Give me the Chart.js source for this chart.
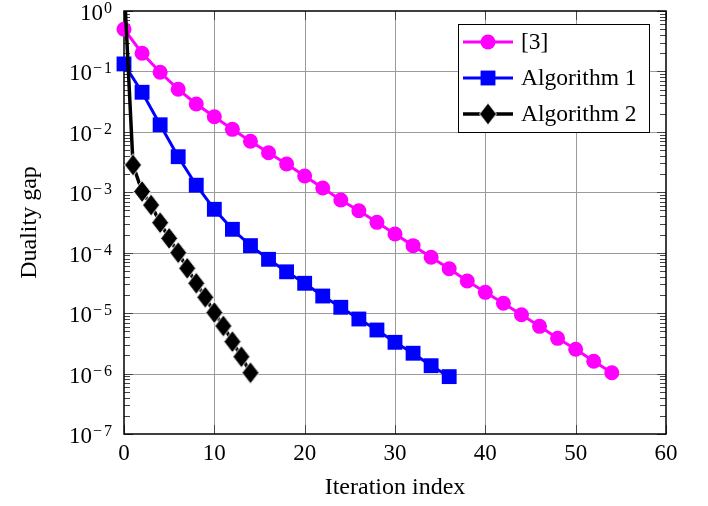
<!DOCTYPE html>
<html><head><meta charset="utf-8">
<script src="https://cdn.jsdelivr.net/npm/chart.js@4"></script>
<style>html,body{margin:0;padding:0;background:#fff}canvas{display:block}</style>
</head><body>
<canvas id="c" width="708" height="506"></canvas>
<script>
// ---- data ----
const seriesNames = ['[3]', 'Algorithm 1', 'Algorithm 2'];
const refIter = [0,2,4,6,8,10,12,14,16,18,20,22,24,26,28,30,32,34,36,38,40,42,44,46,48,50,52,54];
const refGap  = [0.50,0.20,0.097,0.0506,0.0289,0.0178,0.0110,0.00698,0.00452,0.00294,0.00186,0.00118,0.000745,0.000496,0.000318,0.000204,0.000131,8.4e-5,5.43e-5,3.40e-5,2.21e-5,1.46e-5,9.42e-6,6.05e-6,3.83e-6,2.52e-6,1.60e-6,1.03e-6];
const alg1Iter = [0,2,4,6,8,10,12,14,16,18,20,22,24,26,28,30,32,34,36];
const alg1Gap  = [0.133,0.0452,0.0131,0.00388,0.00131,0.000523,0.000244,0.000131,7.78e-5,4.83e-5,3.12e-5,1.92e-5,1.25e-5,8.0e-6,5.26e-6,3.29e-6,2.17e-6,1.35e-6,8.9e-7];
const alg2Iter = [0,1,2,3,4,5,6,7,8,9,10,11,12,13,14];
const alg2Gap  = [3.0,0.00283,0.00103,0.000616,0.000314,0.000173,1.0e-4,5.52e-5,3.12e-5,1.83e-5,1.02e-5,6.13e-6,3.37e-6,1.90e-6,1.03e-6];
const xTickValues = [0,10,20,30,40,50,60];
const yDecadeExponents = [0,-1,-2,-3,-4,-5,-6,-7];

const FONT = 'Liberation Serif';
function diamondCanvas(){
  const c=document.createElement('canvas'); c.width=20; c.height=25;
  const g=c.getContext('2d');
  g.beginPath(); g.moveTo(10,1.5); g.lineTo(18.5,12.5); g.lineTo(10,23.5); g.lineTo(1.5,12.5); g.closePath();
  g.fillStyle='#000'; g.fill(); g.strokeStyle='#fff'; g.lineWidth=1; g.stroke();
  return c;
}
const diamond = diamondCanvas();
const pts = (xs, ys) => xs.map((x,i)=>({x, y: ys[i]}));

const frame = {
  id:'frame',
  beforeDatasetsDraw(chart){
    const ctx=chart.ctx, a=chart.chartArea, xs=chart.scales.x, ys=chart.scales.y;
    ctx.save();
    ctx.strokeStyle='#9b9b9b'; ctx.lineWidth=1;
    xTickValues.forEach(v=>{ if(v===0||v===60) return; const x=Math.round(xs.getPixelForValue(v))+0.5;
      ctx.beginPath(); ctx.moveTo(x,a.top); ctx.lineTo(x,a.bottom); ctx.stroke(); });
    yDecadeExponents.forEach(e=>{ if(e===0||e===-7) return; const y=Math.round(ys.getPixelForValue(Math.pow(10,e)))+0.5;
      ctx.beginPath(); ctx.moveTo(a.left,y); ctx.lineTo(a.right,y); ctx.stroke(); });
    // ticks
    ctx.strokeStyle='#444'; ctx.lineWidth=1;
    for(let e=-7;e<0;e++){ for(let k=2;k<=9;k++){ const y=Math.round(ys.getPixelForValue(k*Math.pow(10,e)))+0.5;
      ctx.beginPath(); ctx.moveTo(a.left,y); ctx.lineTo(a.left+6,y); ctx.moveTo(a.right-6,y); ctx.lineTo(a.right,y); ctx.stroke(); } }
    yDecadeExponents.forEach(e=>{ const y=Math.round(ys.getPixelForValue(Math.pow(10,e)))+0.5;
      ctx.beginPath(); ctx.moveTo(a.left,y); ctx.lineTo(a.left+9,y); ctx.moveTo(a.right-9,y); ctx.lineTo(a.right,y); ctx.stroke(); });
    xTickValues.forEach(v=>{ const x=Math.round(xs.getPixelForValue(v))+0.5;
      ctx.beginPath(); ctx.moveTo(x,a.bottom); ctx.lineTo(x,a.bottom-9); ctx.moveTo(x,a.top); ctx.lineTo(x,a.top+9); ctx.stroke(); });
    ctx.strokeStyle='#000'; ctx.lineWidth=1.5;
    ctx.strokeRect(a.left, a.top, a.right-a.left, a.bottom-a.top);
    ctx.restore();
  },
  afterDraw(chart){
    const ctx=chart.ctx, a=chart.chartArea, ys=chart.scales.y;
    ctx.save();
    ctx.fillStyle='#000';
    yDecadeExponents.forEach(e=>{
      const y=ys.getPixelForValue(Math.pow(10,e));
      const right=112;
      ctx.font='16px "'+FONT+'"'; ctx.textAlign='right'; ctx.textBaseline='alphabetic';
      const d=String(Math.abs(e));
      ctx.fillText(d, right, y+2);
      let left = right - ctx.measureText(d).width;
      if(e!==0){ const mw=ctx.measureText('\u2212').width; left -= 2; ctx.fillText('\u2212', left, y+2); left -= mw; }
      ctx.font='23px "'+FONT+'"';
      ctx.fillText('10', left-1, y+9);
    });
    // legend
    const bx=458.5, by=24.5, bw=191, bh=108;
    ctx.fillStyle='#fff'; ctx.fillRect(bx,by,bw,bh);
    ctx.strokeStyle='#000'; ctx.lineWidth=1; ctx.strokeRect(bx,by,bw,bh);
    const rows=[42,78,114];
    chart.data.datasets.forEach((ds,i)=>{
      const y=rows[i];
      ctx.strokeStyle=ds.borderColor; ctx.lineWidth=ds.borderWidth;
      ctx.beginPath(); ctx.moveTo(463,y); ctx.lineTo(513,y); ctx.stroke();
      ctx.fillStyle=ds.backgroundColor;
      if(ds.pointStyle==='circle'){ ctx.beginPath(); ctx.arc(488,y,ds.pointRadius,0,Math.PI*2); ctx.fill(); }
      else if(ds.pointStyle==='rect'){ const s=ds.pointRadius*Math.SQRT1_2; ctx.fillRect(488-s,y-s,2*s,2*s); }
      else { ctx.drawImage(ds.pointStyle, 488-ds.pointStyle.width/2, y-ds.pointStyle.height/2); }
      ctx.fillStyle='#000'; ctx.font='23.5px "'+FONT+'"'; ctx.textAlign='left'; ctx.textBaseline='middle';
      ctx.fillText(ds.label, 521, y+1);
    });
    ctx.restore();
  }
};

new Chart(document.getElementById('c'), {
  type:'line',
  data:{ datasets:[
    {label:seriesNames[0], data:pts(refIter,refGap), borderColor:'#ff00ff', backgroundColor:'#ff00ff', borderWidth:3,
     pointStyle:'circle', pointRadius:7.5, pointHoverRadius:7.5, pointBorderWidth:0, clip:false, order:2},
    {label:seriesNames[1], data:pts(alg1Iter,alg1Gap), borderColor:'#0000ff', backgroundColor:'#0000ff', borderWidth:3,
     pointStyle:'rect', pointRadius:10.5, pointHoverRadius:10.5, pointBorderWidth:0, clip:false, order:1},
    {label:seriesNames[2], data:pts(alg2Iter,alg2Gap), borderColor:'#000000', backgroundColor:'#000000', borderWidth:3.5,
     pointStyle:diamond, pointRadius:10, pointHoverRadius:10, pointBorderWidth:0, clip:{left:false,top:0,right:false,bottom:false}, order:0}
  ]},
  options:{
    responsive:false, animation:false, devicePixelRatio:1,
    layout:{padding:{top:11,right:42,left:0,bottom:0}},
    plugins:{legend:{display:false}, tooltip:{enabled:false}},
    elements:{line:{tension:0}},
    scales:{
      x:{type:'linear', min:0, max:60,
         ticks:{stepSize:10, color:'#000', font:{family:FONT,size:23}, padding:6, maxRotation:0},
         grid:{display:false, drawTicks:false}, border:{display:false},
         title:{display:true, text:'Iteration index', color:'#000', font:{family:FONT,size:24}, padding:{top:0,bottom:4}},
         afterFit:s=>{s.height=72;}},
      y:{type:'logarithmic', min:1e-7, max:1,
         ticks:{display:false}, grid:{display:false, drawTicks:false}, border:{display:false},
         title:{display:true, text:'Duality gap', color:'#000', font:{family:FONT,size:24}, padding:{top:15,bottom:0}},
         afterFit:s=>{s.width=124;}}
    }
  },
  plugins:[frame]
});
</script>
</body></html>
